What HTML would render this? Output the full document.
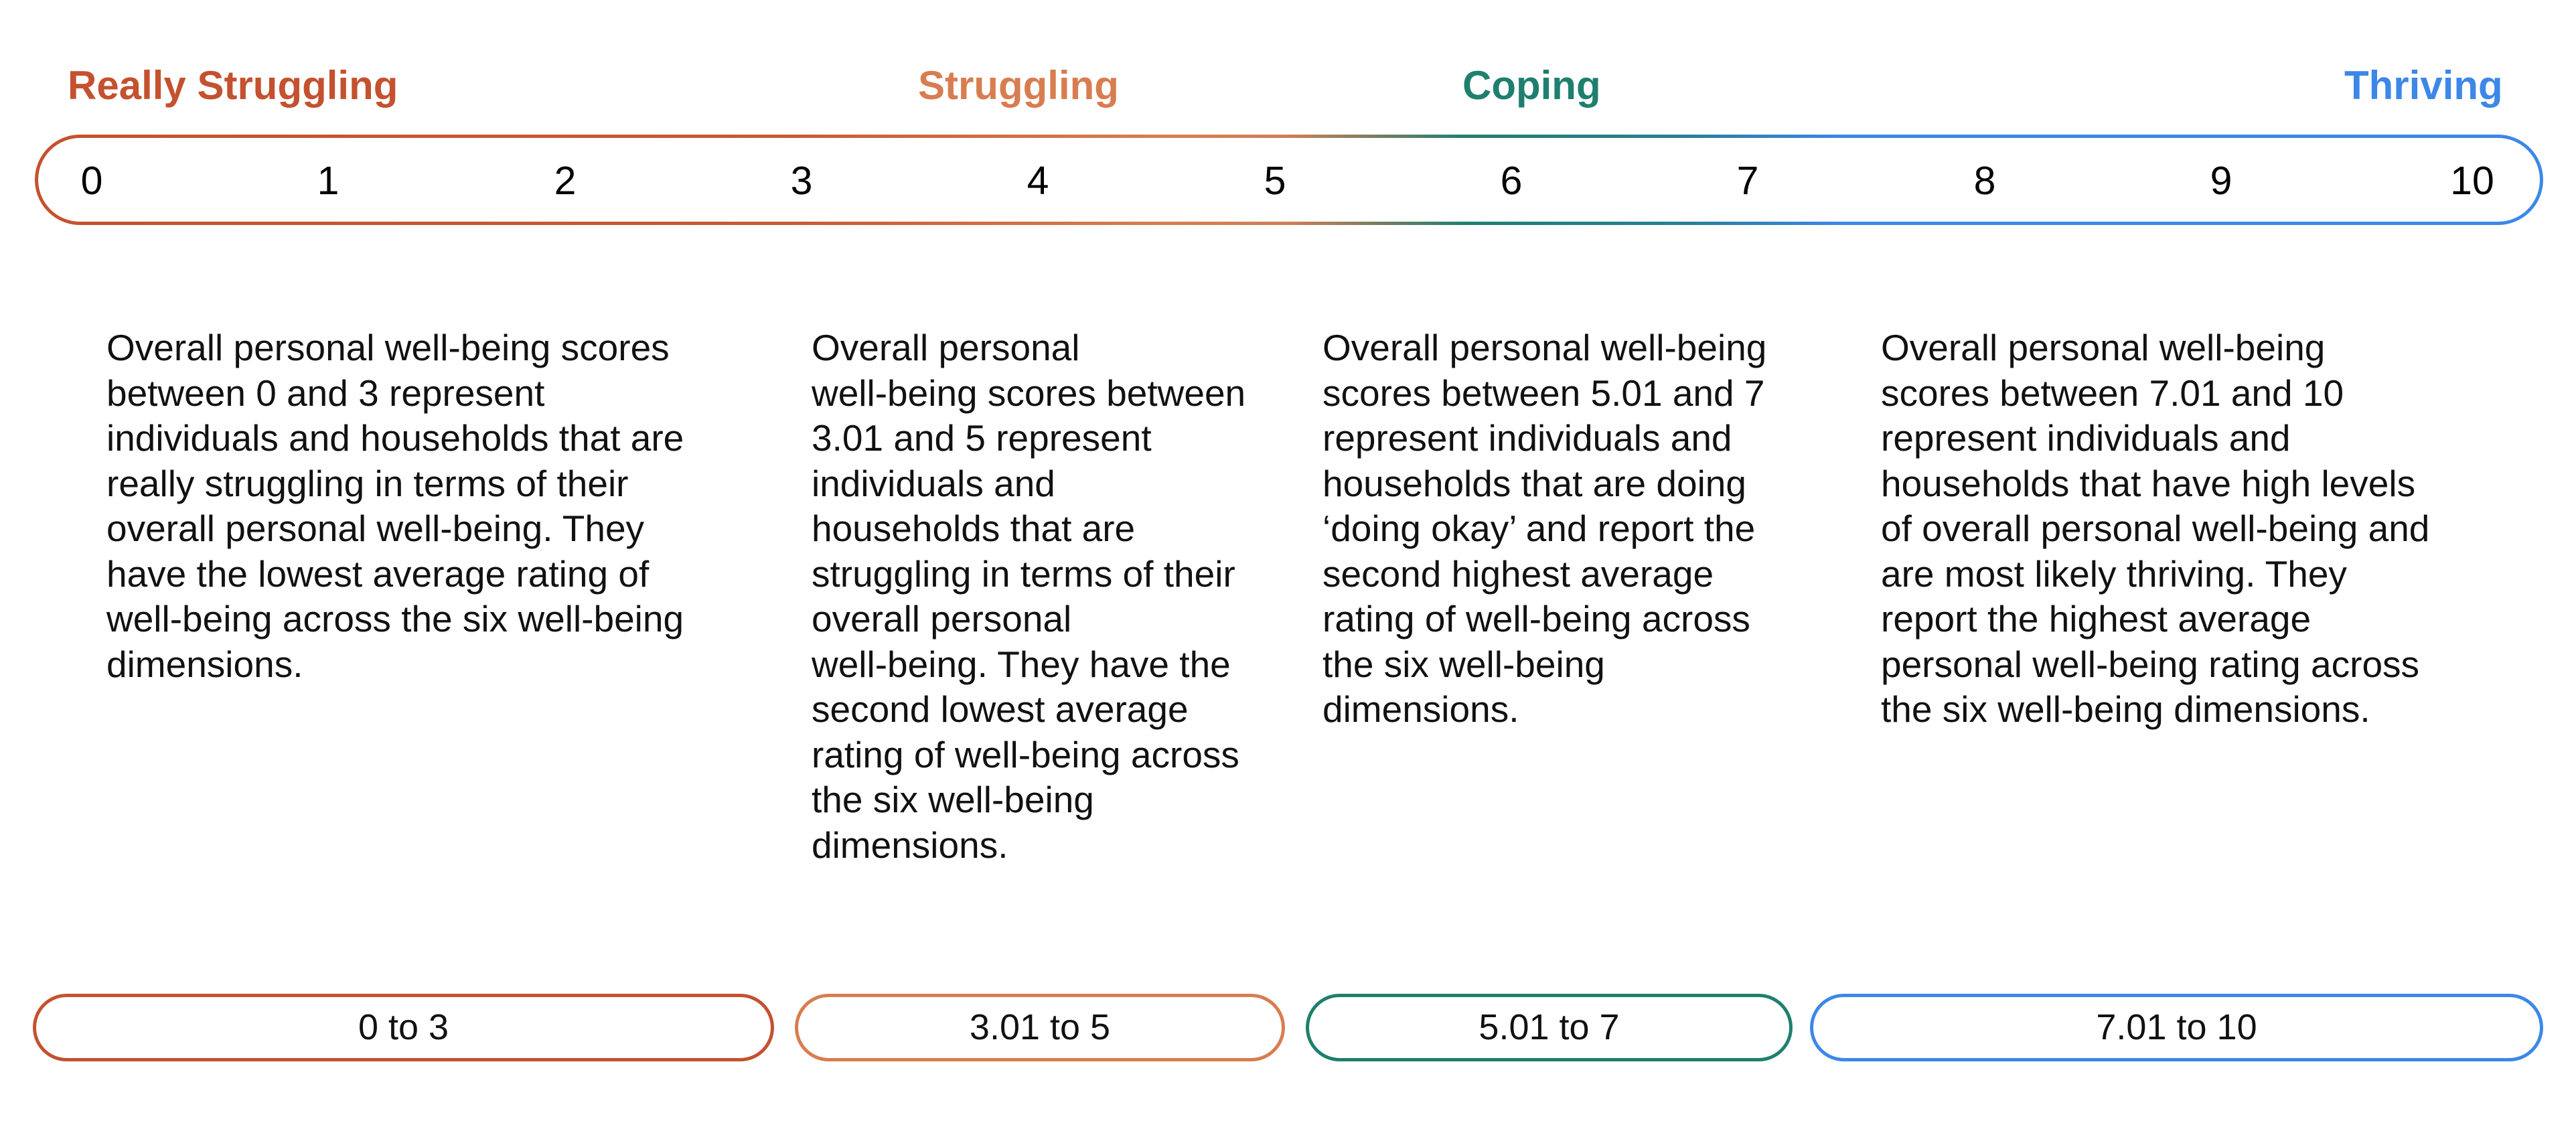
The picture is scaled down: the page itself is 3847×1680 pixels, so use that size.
<!DOCTYPE html>
<html><head><meta charset="utf-8"><style>
html,body{margin:0;padding:0;background:#fff;}
body{width:3847px;height:1680px;position:relative;overflow:hidden;font-family:"Liberation Sans",Arial,sans-serif;}
.t{position:absolute;top:92px;font-weight:bold;font-size:60px;line-height:72px;letter-spacing:0px;}
.n{position:absolute;top:235px;width:120px;margin-left:-60px;text-align:center;font-size:59px;line-height:70px;color:#000;}
.p{position:absolute;top:486px;font-size:55px;line-height:67.5px;color:#111;}
.pill{position:absolute;top:1484px;height:91px;border:5px solid;border-radius:52px;text-align:center;font-size:54px;line-height:91px;color:#111;}
</style></head><body>
<div class="t" style="left:101px;color:#c4512f">Really Struggling</div>
<div class="t" style="left:1371px;color:#d87d50">Struggling</div>
<div class="t" style="left:2184px;color:#1f7f6e">Coping</div>
<div class="t" style="left:3501px;color:#3d87e8">Thriving</div>
<svg style="position:absolute;left:0;top:0" width="3847" height="400">
<defs><linearGradient id="g" x1="52" y1="0" x2="3798" y2="0" gradientUnits="userSpaceOnUse">
<stop offset="0" stop-color="#c4512f"/><stop offset="0.3" stop-color="#c85a35"/><stop offset="0.45" stop-color="#d87d50"/><stop offset="0.5" stop-color="#cf7e55"/><stop offset="0.57" stop-color="#1f7f6e"/><stop offset="0.66" stop-color="#2a7f9a"/><stop offset="0.72" stop-color="#3d87e8"/><stop offset="1" stop-color="#3d87e8"/></linearGradient></defs>
<rect x="54.5" y="203.5" width="3741" height="130" rx="65" ry="65" fill="none" stroke="url(#g)" stroke-width="5"/>
</svg>
<div class="n" style="left:137px">0</div>
<div class="n" style="left:490px">1</div>
<div class="n" style="left:844px">2</div>
<div class="n" style="left:1197px">3</div>
<div class="n" style="left:1550px">4</div>
<div class="n" style="left:1904px">5</div>
<div class="n" style="left:2257px">6</div>
<div class="n" style="left:2610px">7</div>
<div class="n" style="left:2964px">8</div>
<div class="n" style="left:3317px">9</div>
<div class="n" style="left:3692px">10</div>
<div class="p" style="left:159px">Overall personal well-being scores<br>between 0 and 3 represent<br>individuals and households that are<br>really struggling in terms of their<br>overall personal well-being. They<br>have the lowest average rating of<br>well-being across the six well-being<br>dimensions.</div>
<div class="p" style="left:1212px">Overall personal<br>well-being scores between<br>3.01 and 5 represent<br>individuals and<br>households that are<br>struggling in terms of their<br>overall personal<br>well-being. They have the<br>second lowest average<br>rating of well-being across<br>the six well-being<br>dimensions.</div>
<div class="p" style="left:1975px">Overall personal well-being<br>scores between 5.01 and 7<br>represent individuals and<br>households that are doing<br>‘doing okay’ and report the<br>second highest average<br>rating of well-being across<br>the six well-being<br>dimensions.</div>
<div class="p" style="left:2809px">Overall personal well-being<br>scores between 7.01 and 10<br>represent individuals and<br>households that have high levels<br>of overall personal well-being and<br>are most likely thriving. They<br>report the highest average<br>personal well-being rating across<br>the six well-being dimensions.</div>
<div class="pill" style="left:49px;width:1097px;border-color:#c4512f">0 to 3</div>
<div class="pill" style="left:1187px;width:722px;border-color:#d87d50">3.01 to 5</div>
<div class="pill" style="left:1950px;width:717px;border-color:#1f7f6e">5.01 to 7</div>
<div class="pill" style="left:2703px;width:1085px;border-color:#3d87e8">7.01 to 10</div>
</body></html>
